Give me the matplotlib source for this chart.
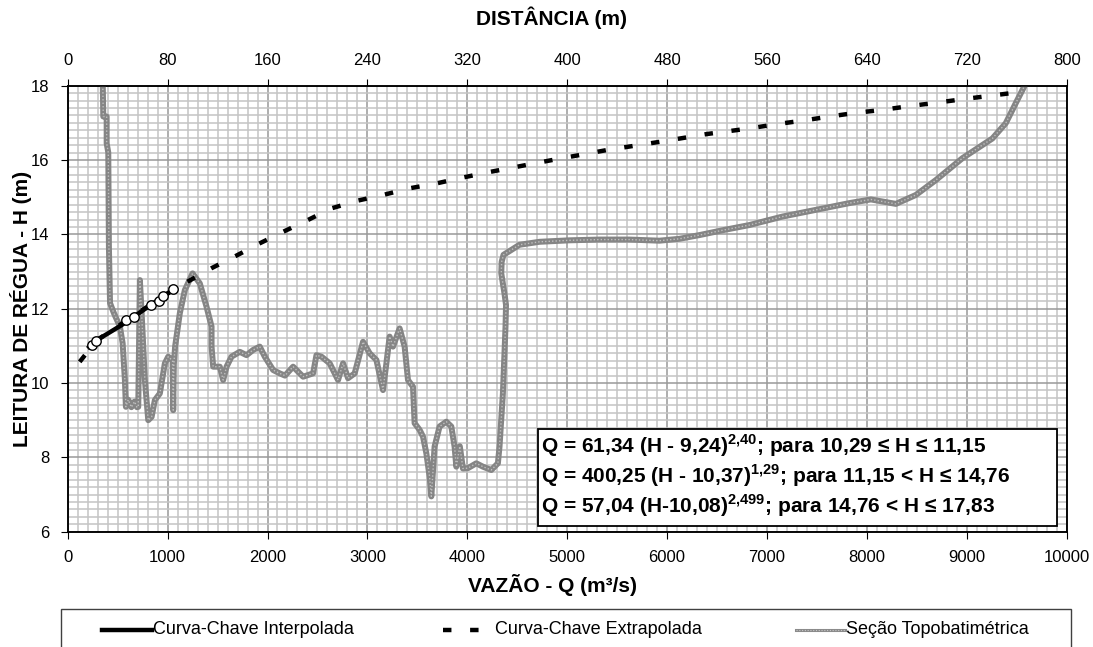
import numpy as np
import matplotlib
matplotlib.use("Agg")
import matplotlib.pyplot as plt
from matplotlib.ticker import MultipleLocator
from matplotlib.lines import Line2D
from matplotlib.patches import Rectangle

plt.rcParams['font.family'] = ['Liberation Sans', 'DejaVu Sans']
plt.rcParams['mathtext.fontset'] = 'custom'
plt.rcParams['mathtext.bf'] = 'Liberation Sans:bold'
plt.rcParams['mathtext.rm'] = 'Liberation Sans'

# medições (círculos)
q_obs = [240, 283, 583, 663, 830, 913, 957, 1050]
h_obs = [11.02, 11.14, 11.70, 11.79, 12.10, 12.21, 12.34, 12.52]

# curva-chave interpolada
q_int = [215, 290, 540, 660, 830, 960, 1050]
h_int = [10.97, 11.15, 11.56, 11.78, 12.10, 12.33, 12.50]

# curva-chave extrapolada
q_ext = [120, 290, 1050, 1440, 1690, 1923, 2157, 2407, 2640, 2907, 3157, 3423,
         3690, 3940, 4207, 4850, 5400, 5950, 6400, 6823, 7107, 7357, 7623, 7890,
         8157, 8423, 8690, 8940, 9207, 9473, 9560]
h_ext = [10.57, 11.15, 12.50, 13.09, 13.43, 13.76, 14.07, 14.39, 14.70, 14.91,
         15.06, 15.24, 15.37, 15.52, 15.67, 16.00, 16.27, 16.50, 16.70, 16.85,
         16.97, 17.06, 17.17, 17.27, 17.35, 17.45, 17.54, 17.63, 17.72, 17.81, 17.83]

# seção topobatimétrica (distância x cota)
d_sec = [28.0, 28.5, 31.2, 31.2, 32.5, 33.0, 33.9, 37.0, 41.8, 44.0, 45.8, 46.6,
         48.5, 51.0, 53.5, 55.5, 56.5, 57.8, 59.2, 61.8, 64.5, 67.2, 69.8, 73.8,
         77.8, 80.5, 84.0, 84.5, 85.0, 86.0, 89.8, 93.8, 100.0, 105.8, 111.2,
         115.2, 115.2, 116.5, 121.8, 124.5, 127.2, 131.2, 137.8, 143.2, 148.5,
         153.8, 157.8, 164.5, 169.8, 174.0, 180.5, 188.5, 196.5, 199.2, 203.2,
         209.8, 216.5, 220.5, 224.5, 229.8, 236.5, 241.8, 247.2, 252.5, 255.2,
         257.8, 260.5, 265.8, 269.8, 272.5, 276.5, 277.8, 281.8, 284.5, 287.2,
         289.8, 291.2, 293.8, 297.8, 303.2, 307.2, 309.8, 311.2, 314.0, 316.5,
         320.5, 327.2, 332.5, 339.2, 344.5, 345.8, 348.5, 350.6, 351.0, 349.8,
         347.2, 347.5, 349.0, 353.8, 361.8, 377.8, 401.8, 425.8, 449.8, 473.8,
         489.8, 505.8, 525.8, 545.8, 572.5, 599.2, 625.8, 643.2, 663.2, 679.2,
         695.2, 716.5, 740.5, 751.2, 759.2, 767.2]
h_sec = [18.2, 17.17, 17.17, 16.45, 16.20, 13.67, 12.15, 11.88, 11.52, 11.07,
         10.08, 9.36, 9.55, 9.35, 9.50, 9.35, 9.36, 12.77, 11.88, 10.08, 9.00,
         9.09, 9.54, 9.72, 10.53, 10.71, 10.60, 9.27, 10.50, 10.98, 11.88, 12.50,
         12.95, 12.68, 12.05, 11.52, 10.98, 10.44, 10.44, 10.08, 10.44, 10.71,
         10.84, 10.75, 10.89, 10.98, 10.71, 10.35, 10.26, 10.20, 10.44, 10.17,
         10.26, 10.75, 10.71, 10.53, 10.08, 10.53, 10.13, 10.26, 11.11, 10.80,
         10.62, 9.81, 10.53, 11.25, 10.98, 11.47, 10.98, 10.08, 9.90, 8.92, 8.74,
         8.56, 8.11, 7.48, 6.95, 8.29, 8.83, 8.96, 8.83, 8.29, 7.75, 8.30, 7.70,
         7.71, 7.84, 7.75, 7.66, 7.84, 8.29, 9.72, 11.52, 12.10, 12.40, 12.95,
         13.26, 13.45, 13.55, 13.72, 13.80, 13.84, 13.86, 13.86, 13.83, 13.88,
         13.98, 14.12, 14.25, 14.48, 14.66, 14.84, 14.94, 14.82, 15.06, 15.46,
         16.05, 16.58, 16.99, 17.53, 18.06]

equacoes = [
    r"Q = 61,34 (H - 9,24)$^{\mathbf{2{,}40}}$; para 10,29 ≤ H ≤ 11,15",
    r"Q = 400,25 (H - 10,37)$^{\mathbf{1{,}29}}$; para 11,15 < H ≤ 14,76",
    r"Q = 57,04 (H-10,08)$^{\mathbf{2{,}499}}$; para 14,76 < H ≤ 17,83",
]
rotulos = ["Curva-Chave Interpolada", "Curva-Chave Extrapolada", "Seção Topobatimétrica"]

W, H = 1093, 647
def fx(px):
    return px / W
def fy(py):
    return 1 - py / H

fig = plt.figure(figsize=(W / 100, H / 100), dpi=100)
ax = fig.add_axes([fx(67.7), fy(531.7), 999 / W, 446 / H])
ax2 = ax.twiny()
ax.set_zorder(ax2.get_zorder() + 1)
ax.patch.set_visible(False)

ax.set_xlim(0, 10000)
ax.set_ylim(6, 18)
ax2.set_xlim(0, 800)

# grade desenhada no eixo de baixo da pilha
ax2.yaxis.set_visible(True)
ax2.tick_params(axis='y', which='both', left=False, right=False,
                labelleft=False, labelright=False)
ax2.xaxis.set_major_locator(MultipleLocator(80))
ax2.xaxis.set_minor_locator(MultipleLocator(8))
ax.yaxis.set_major_locator(MultipleLocator(2))
ax.yaxis.set_minor_locator(MultipleLocator(0.2))
ax2.yaxis.set_major_locator(MultipleLocator(2))
ax2.yaxis.set_minor_locator(MultipleLocator(0.2))
ax.xaxis.set_major_locator(MultipleLocator(1000))
ax2.grid(which='minor', axis='both', color='#c4c4c4', lw=1.1)
ax2.grid(which='major', axis='both', color='#999999', lw=1.1)
ax2.set_axisbelow(True)

# seção
ax2.plot(d_sec, h_sec, color='#858585', lw=4.3, solid_joinstyle='round', zorder=3)
ax2.plot(d_sec, h_sec, color='#c0c0c0', lw=1.0, ls=(0, (1, 1.5)), zorder=3.1)

# curva-chave
ax.plot(q_ext, h_ext, color='black', lw=3.2, dashes=(1.9, 4.2), dash_capstyle='butt', zorder=4)
ax.plot(q_int, h_int, color='black', lw=3.2, zorder=5)
ax.plot(q_obs, h_obs, 'o', ms=6.8, mfc='white', mec='black', mew=1.0, zorder=6)

for a in (ax, ax2):
    for s in a.spines.values():
        s.set_color('black')
        s.set_linewidth(1.1)
ax.tick_params(which='major', direction='out', length=5, labelsize=12, pad=8)
ax.tick_params(which='minor', length=0)
ax2.tick_params(axis='x', which='major', direction='out', length=5, labelsize=12, pad=8)
ax2.tick_params(axis='x', which='minor', length=0)

fig.text(fx(552), fy(585), "VAZÃO - Q (m³/s)", fontsize=15, fontweight='bold',
         ha='center', va='center')
fig.text(fx(552), fy(18), "DISTÂNCIA (m)", fontsize=15, fontweight='bold',
         ha='center', va='center')
fig.text(fx(21), fy(309), "LEITURA DE RÉGUA - H (m)", fontsize=15, fontweight='bold',
         ha='center', va='center', rotation=90)

# caixa das equações
fig.add_artist(Rectangle((fx(538), fy(526)), 519 / W, 97 / H, transform=fig.transFigure,
                         facecolor='white', edgecolor='black', lw=1.3, zorder=2))
for i, txt in enumerate(equacoes):
    fig.text(fx(541), fy(446 + 30 * i), txt, fontsize=15, fontweight='bold',
             va='center', ha='left', zorder=3)

# legenda
fig.add_artist(Rectangle((fx(61), fy(670)), 1010 / W, 61 / H, transform=fig.transFigure,
                         facecolor='white', edgecolor='#404040', lw=1.0, zorder=2))
yl = fy(630)
fig.add_artist(Line2D([fx(102), fx(152)], [yl, yl], transform=fig.transFigure,
                      color='black', lw=3.2, zorder=3))
fig.add_artist(Line2D([fx(443), fx(490)], [yl, yl], transform=fig.transFigure,
                      color='black', lw=3.2, dashes=(1.9, 4.2), dash_capstyle='butt', zorder=3))
fig.add_artist(Line2D([fx(796), fx(845)], [yl, yl], transform=fig.transFigure,
                      color='#8a8a8a', lw=2.2, zorder=3))
fig.add_artist(Line2D([fx(796), fx(845)], [yl, yl], transform=fig.transFigure,
                      color='#c8c8c8', lw=0.8, ls=(0, (1, 1.5)), zorder=3.1))
for x0, txt in zip([153, 495, 846], rotulos):
    fig.text(fx(x0), yl, txt, fontsize=13, ha='left', va='center', zorder=3)

fig.savefig("out.png", dpi=100)
